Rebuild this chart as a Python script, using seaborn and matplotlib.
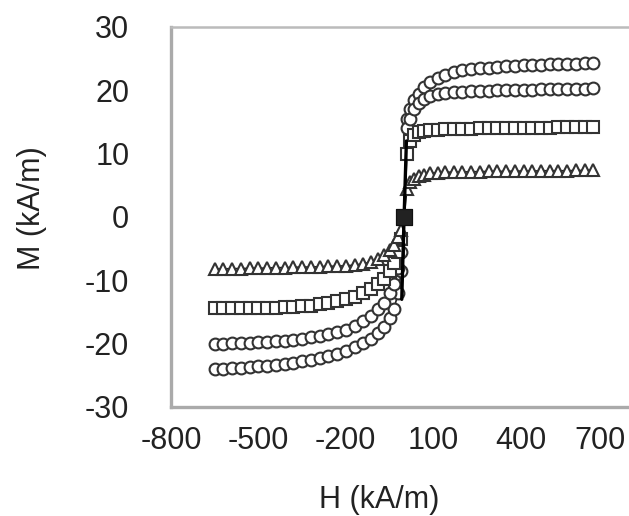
import matplotlib
matplotlib.use("Agg")
import matplotlib.pyplot as plt
import matplotlib.transforms as mtransforms
import seaborn as sns
import numpy as np

sns.set_style("white")
plt.rcParams['font.family'] = ['Liberation Sans', 'DejaVu Sans']

# H values (kA/m)
H_neg = [-650, -620, -590, -560, -530, -500, -470, -440, -410, -380, -350, -320, -290,
         -260, -230, -200, -170, -140, -115, -90, -70, -50, -35, -20, -10]
H_pos = [10, 20, 35, 50, 70, 90, 115, 140, 170, 200, 230, 260, 290, 320, 350, 380,
         410, 440, 470, 500, 530, 560, 590, 620, 650]

# Series A (circles, largest)
A_neg = [-24.0, -24.0, -23.9, -23.8, -23.7, -23.6, -23.5, -23.4, -23.2, -23.0, -22.8, -22.6, -22.3,
         -22.0, -21.6, -21.2, -20.6, -19.9, -19.2, -18.3, -17.4, -16.0, -14.5, -12.0, -8.5]
A_pos = [15.5, 17.0, 18.5, 19.5, 20.5, 21.3, 22.0, 22.5, 22.9, 23.2, 23.4, 23.5, 23.6,
         23.7, 23.8, 23.9, 23.95, 24.0, 24.05, 24.1, 24.15, 24.2, 24.2, 24.25, 24.3]
# Series B (circles)
B_neg = [-20.0, -20.0, -19.95, -19.9, -19.85, -19.8, -19.7, -19.6, -19.5, -19.4, -19.2, -19.0, -18.8,
         -18.5, -18.2, -17.8, -17.2, -16.4, -15.6, -14.6, -13.5, -12.0, -10.5, -8.0, -5.5]
B_pos = [14.0, 15.5, 17.0, 18.0, 18.7, 19.1, 19.4, 19.6, 19.7, 19.8, 19.85, 19.9, 19.95,
         20.0, 20.0, 20.05, 20.1, 20.1, 20.15, 20.15, 20.2, 20.2, 20.2, 20.25, 20.3]
# Series C (squares)
C_neg = [-14.4, -14.4, -14.4, -14.35, -14.35, -14.3, -14.3, -14.3, -14.25, -14.2, -14.1, -14.0, -13.8,
         -13.6, -13.3, -13.0, -12.6, -12.0, -11.4, -10.6, -9.8, -8.6, -7.3, -5.5, -3.5]
C_pos = [10.0, 12.0, 13.0, 13.4, 13.6, 13.7, 13.8, 13.85, 13.9, 13.9, 13.95, 14.0, 14.0,
         14.0, 14.05, 14.05, 14.1, 14.1, 14.1, 14.1, 14.15, 14.15, 14.2, 14.2, 14.2]
# Series D (triangles)
D_neg = [-8.2, -8.2, -8.15, -8.15, -8.1, -8.1, -8.05, -8.0, -8.0, -7.95, -7.9, -7.9, -7.85,
         -7.8, -7.75, -7.7, -7.6, -7.4, -7.1, -6.6, -6.0, -5.2, -4.4, -3.2, -2.0]
D_pos = [4.5, 5.5, 6.0, 6.4, 6.7, 6.9, 7.0, 7.05, 7.1, 7.1, 7.15, 7.15, 7.2,
         7.2, 7.2, 7.25, 7.25, 7.25, 7.3, 7.3, 7.3, 7.3, 7.35, 7.35, 7.4]

series = [(A_neg, A_pos, 'o'), (B_neg, B_pos, 'o'), (C_neg, C_pos, 's'), (D_neg, D_pos, '^')]

x_ticks = [-800, -500, -200, 100, 400, 700]
y_ticks = [-30, -20, -10, 0, 10, 20, 30]

fig = plt.figure(figsize=(6.29, 5.16), dpi=100)
ax = fig.add_axes([171/629, (516-407)/516, 1 - 171/629, (407-27)/516])

H_all = H_neg + [0] + H_pos
for neg, pos, mk in series:
    M_all = neg + [0] + pos
    sns.lineplot(x=H_all, y=M_all, ax=ax, sort=False, estimator=None,
                 color='#222222', linewidth=1.2, marker=mk, markersize=8.5,
                 markerfacecolor='white', markeredgecolor='#333333', markeredgewidth=1.5)

sns.scatterplot(x=[0], y=[0], ax=ax, marker='s', s=120, color='#222222', edgecolor='#111111', zorder=5)
sns.lineplot(x=[-8, 0, 8], y=[-13, 0, 12], ax=ax, color='black', linewidth=2.4, sort=False, estimator=None)

ax.set_xlim(-800, 772)
ax.set_ylim(-30, 30)
ax.set_xticks(x_ticks)
ax.set_yticks(y_ticks)
ax.set_xticklabels([str(v) for v in x_ticks])
ax.set_yticklabels([str(v) for v in y_ticks])
ax.tick_params(axis='both', direction='in', length=6, width=1.2, color='#555555',
               labelsize=22, labelcolor='#222222')
ax.tick_params(axis='y', pad=30)
ax.tick_params(axis='x', pad=14)

# nudge the last x tick label so it stays inside the figure
last = ax.get_xticklabels()[-1]
last.set_transform(last.get_transform() + mtransforms.ScaledTranslation(-6/72, 0, fig.dpi_scale_trans))

for s in ['left', 'bottom']:
    ax.spines[s].set_color('#aaaaaa')
    ax.spines[s].set_linewidth(2.4)
ax.spines['top'].set_color('#bbbbbb')
ax.spines['top'].set_linewidth(1.8)
ax.spines['right'].set_visible(False)

ax.set_xlabel('H (kA/m)', fontsize=22, color='#222222')
ax.set_ylabel('M (kA/m)', fontsize=22, color='#222222')
ax.xaxis.set_label_coords((379-171)/458, -(500-407)/380)
ax.yaxis.set_label_coords(-(171-32)/458, (407-208)/380)
ax.xaxis.label.set_verticalalignment('center')
ax.yaxis.label.set_verticalalignment('center')

fig.savefig('out.png', dpi=100)
